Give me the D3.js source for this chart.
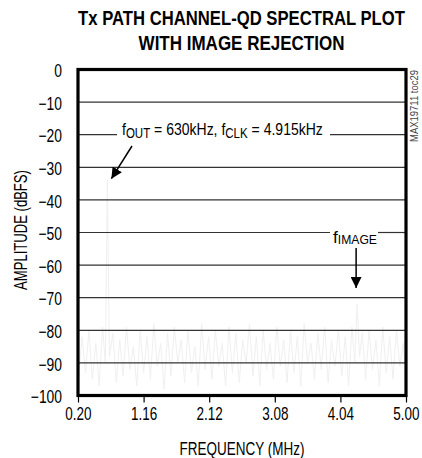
<!DOCTYPE html>
<html><head><meta charset="utf-8">
<script src="https://cdn.jsdelivr.net/npm/d3@7"></script>
<style>
body{margin:0;background:#fff;}
svg{display:block;}
text{font-family:'Liberation Sans','Arial',sans-serif;}
</style></head>
<body><svg id="c" width="422" height="458"></svg>
<script>
const titleLines = ["Tx PATH CHANNEL-QD SPECTRAL PLOT", "WITH IMAGE REJECTION"];
const xTicks = [0.20, 1.16, 2.12, 3.08, 4.04, 5.00];
const yTicks = [0, -10, -20, -30, -40, -50, -60, -70, -80, -90, -100];
const freqMHz = [0.20,0.26,0.31,0.36,0.41,0.46,0.51,0.56,0.60,0.63,0.66,0.71,0.76,0.81,0.86,0.91,0.96,1.01,1.06,1.11,1.16,1.21,1.26,1.31,1.36,1.41,1.46,1.51,1.56,1.61,1.66,1.71,1.76,1.81,1.86,1.91,1.96,2.01,2.06,2.11,2.16,2.21,2.26,2.31,2.36,2.41,2.46,2.51,2.56,2.61,2.66,2.71,2.76,2.81,2.86,2.91,2.96,3.01,3.06,3.11,3.16,3.21,3.26,3.31,3.36,3.41,3.46,3.51,3.56,3.61,3.66,3.71,3.76,3.81,3.86,3.91,3.96,4.01,4.06,4.11,4.16,4.21,4.25,4.285,4.32,4.36,4.41,4.46,4.51,4.56,4.61,4.66,4.71,4.76,4.81,4.86,4.91,4.96,5.00];
const amplitude = [-96,-82,-93,-80,-95,-84,-97,-79,-90,-34,-88,-81,-96,-83,-94,-79,-92,-85,-97,-80,-93,-82,-95,-78,-91,-84,-98,-81,-94,-79,-90,-83,-96,-80,-93,-85,-97,-78,-92,-82,-95,-80,-91,-84,-97,-79,-93,-81,-96,-83,-90,-78,-94,-82,-97,-80,-92,-84,-95,-79,-91,-83,-96,-80,-93,-82,-97,-78,-90,-84,-95,-81,-92,-79,-96,-83,-91,-80,-94,-82,-97,-79,-90,-72,-88,-81,-95,-80,-92,-83,-97,-79,-93,-82,-95,-80,-91,-84,-94];
const noteOut = {f: 0.63, db: -20, tip: -33.5};
const noteImage = {f: 4.27, db: -50, tip: -67};

const svg = d3.select("#c");
const L = 78, R = 406, T = 69.5, B = 395.5;
const x = d3.scaleLinear().domain([0.2, 5.0]).range([L, R]);
const y = d3.scaleLinear().domain([-100, 0]).range([B, T]);

// horizontally condense text with a transform (keeps anchor point)
function squeezeBy(sel, f){ sel.each(function(){ applySqueeze(this, f); }); }
function squeezeTo(sel, w){ sel.each(function(){ applySqueeze(this, w/this.getComputedTextLength()); }); }
function applySqueeze(node, sx){
  const el = d3.select(node);
  const px = +el.attr("x") || 0, py = +el.attr("y") || 0;
  const prev = el.attr("transform") || "";
  el.attr("x", 0).attr("y", 0)
    .attr("transform", `${prev} translate(${px},${py}) scale(${sx},1)`);
}

// title
const tw = [327, 206];
svg.selectAll(".title").data(titleLines).join("text")
  .attr("x", 241.5).attr("y", (d,i)=> 25 + i*25)
  .attr("text-anchor","middle").attr("font-weight","bold").attr("font-size", 20)
  .text(d=>d)
  .each(function(d,i){ applySqueeze(this, tw[i]/this.getComputedTextLength()); });

// trace (very faint)
const line = d3.line().x((d,i)=>x(freqMHz[i])).y(d=>y(d));
svg.append("path").datum(amplitude).attr("d", line)
  .attr("fill","none").attr("stroke","#f0f0f0").attr("stroke-width",1);

// gridlines with gaps for annotations
const gaps = {"-20": [117, 330], "-50": [330, 378]};
yTicks.filter(v=>v!==0 && v!==-100).forEach(v=>{
  const g = gaps[String(v)];
  const segs = g ? [[L, g[0]], [g[1], R]] : [[L, R]];
  segs.forEach(s=>{
    svg.append("line").attr("x1", s[0]).attr("x2", s[1])
      .attr("y1", y(v)).attr("y2", y(v))
      .attr("stroke","#333").attr("stroke-width",1.2);
  });
});

// axes
const xAxis = svg.append("g").attr("transform",`translate(0,${B})`)
  .call(d3.axisBottom(x).tickValues(xTicks).tickFormat(d3.format(".2f")).tickSize(7).tickPadding(5));
xAxis.select(".domain").remove();
xAxis.selectAll("line").attr("stroke","#000").attr("stroke-width",1.2);
xAxis.selectAll("text").attr("font-size",18).attr("fill","#000")
  .attr("font-family","'Liberation Sans',Arial,sans-serif").call(squeezeBy, 0.75);

const yAxis = svg.append("g").attr("transform",`translate(${L},0)`)
  .call(d3.axisLeft(y).tickValues(yTicks).tickFormat(d3.format("d")).tickSize(0).tickPadding(16));
yAxis.select(".domain").remove();
yAxis.selectAll("text").attr("font-size",18).attr("fill","#000").attr("dy","0.4em")
  .attr("font-family","'Liberation Sans',Arial,sans-serif").call(squeezeBy, 0.77);

// frame
svg.append("rect").attr("x", L).attr("y", T).attr("width", R-L).attr("height", B-T)
  .attr("fill","none").attr("stroke","#000").attr("stroke-width",3.2);

// axis titles
svg.append("text").attr("x", 242).attr("y", 455).attr("text-anchor","middle")
  .attr("font-size",18).text("FREQUENCY (MHz)").call(squeezeTo, 125);
svg.append("text").attr("transform","translate(27,230) rotate(-90)").attr("text-anchor","middle")
  .attr("font-size",18).text("AMPLITUDE (dBFS)").call(squeezeTo, 120);

// side code
svg.append("text").attr("transform","translate(418,70) rotate(-90)").attr("text-anchor","end")
  .attr("font-size",10).attr("fill","#444").text("MAX19711 toc29").call(squeezeTo, 72);

// annotation fOUT
const g1 = svg.append("g");
const t1 = g1.append("text").attr("x", 0).attr("y", 0).attr("font-size",17);
t1.append("tspan").text("f");
t1.append("tspan").attr("dy",2.5).attr("font-size",14).text("OUT");
t1.append("tspan").attr("dy",-2.5).text(" = 630kHz, f");
t1.append("tspan").attr("dy",2.5).attr("font-size",14).text("CLK");
t1.append("tspan").attr("dy",-2.5).text(" = 4.915kHz");
const w1 = t1.node().getBBox().width;
g1.attr("transform", `translate(122,${y(noteOut.db)+0.5}) scale(${201/w1},1)`);

// arrow markers
svg.append("defs").append("marker").attr("id","ah").attr("viewBox","0 0 10 10")
  .attr("refX",10).attr("refY",5).attr("markerWidth",11).attr("markerHeight",11)
  .attr("markerUnits","userSpaceOnUse").attr("orient","auto")
  .append("path").attr("d","M0,0 L10,5 L0,10 Z").attr("fill","#000");

svg.append("line").attr("x1", 132).attr("y1", 146)
  .attr("x2", x(noteOut.f)+4).attr("y2", y(noteOut.tip))
  .attr("stroke","#000").attr("stroke-width",1.5).attr("marker-end","url(#ah)");

// annotation fIMAGE
const g2 = svg.append("g");
const t2 = g2.append("text").attr("x", 0).attr("y", 0).attr("font-size",17);
t2.append("tspan").text("f");
t2.append("tspan").attr("dy",1).attr("font-size",12).text("IMAGE");
const w2 = t2.node().getBBox().width;
g2.attr("transform", `translate(333,${y(noteImage.db)+10}) scale(${44/w2},1)`);

svg.append("line").attr("x1", x(noteImage.f)).attr("y1", 248)
  .attr("x2", x(noteImage.f)).attr("y2", y(noteImage.tip))
  .attr("stroke","#000").attr("stroke-width",1.5).attr("marker-end","url(#ah)");
</script></body></html>
